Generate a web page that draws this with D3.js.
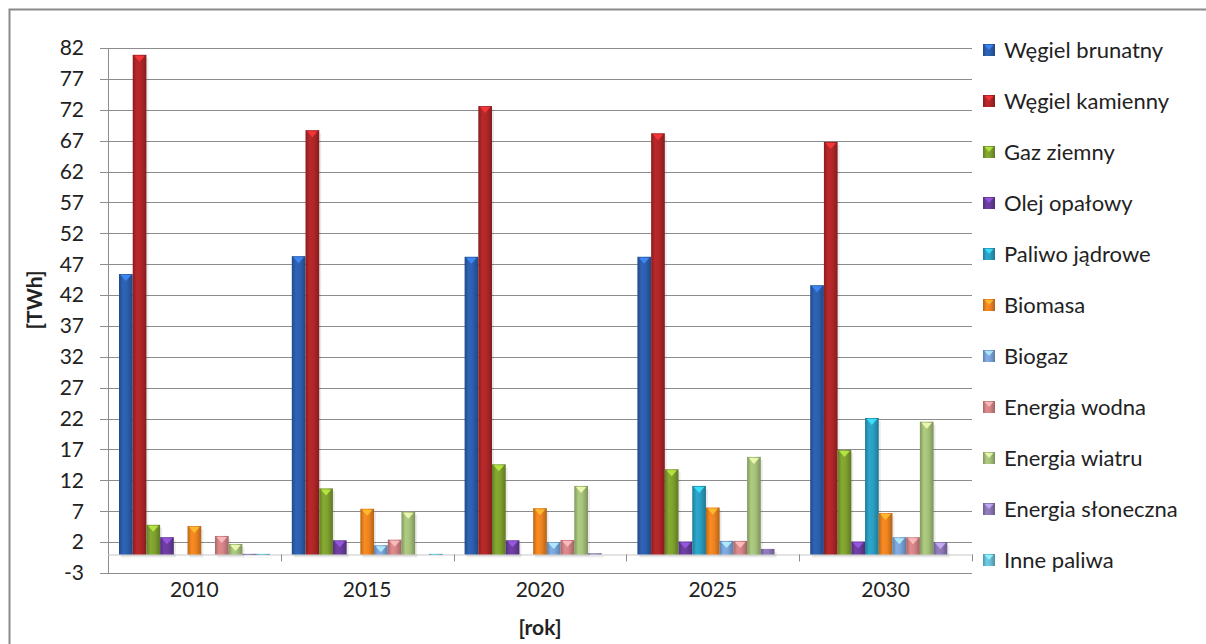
<!DOCTYPE html>
<html>
<head>
<meta charset="utf-8">
<script src="https://cdn.jsdelivr.net/npm/d3@7"></script>
<style>
  body { margin: 0; background: #fff; }
  text { font-family: Lato, "Open Sans", sans-serif; fill: #222; }
</style>
</head>
<body>
<script>
// Chart data
var years = ['2010', '2015', '2020', '2025', '2030'];
var series = ['Węgiel brunatny', 'Węgiel kamienny', 'Gaz ziemny', 'Olej opałowy',
  'Paliwo jądrowe', 'Biomasa', 'Biogaz', 'Energia wodna', 'Energia wiatru',
  'Energia słoneczna', 'Inne paliwa'];
var colors = ['#2c5fae', '#b02628', '#7fa12e', '#6a3d9e', '#2a9ec2', '#ee8420',
  '#7aa5da', '#d58486', '#a6c27a', '#8b78b6', '#68c0d8'];
// one array per series, values per year
var wegielBrunatny = [45.4, 48.3, 48.2, 48.2, 43.6];
var wegielKamienny = [80.9, 68.7, 72.6, 68.2, 66.8];
var gazZiemny = [4.8, 10.7, 14.6, 13.8, 16.9];
var olejOpalowy = [2.8, 2.3, 2.3, 2.1, 2.1];
var paliwoJadrowe = [0, 0, 0, 11.1, 22.1];
var biomasa = [4.6, 7.4, 7.5, 7.6, 6.7];
var biogaz = [0, 1.5, 2.0, 2.2, 2.8];
var energiaWodna = [3.0, 2.4, 2.35, 2.2, 2.8];
var energiaWiatru = [1.7, 6.9, 11.1, 15.8, 21.5];
var energiaSloneczna = [0.1, 0, 0.2, 0.9, 2.0];
var innePaliwa = [0.1, 0.1, 0, 0, 0];
var yTicks = [-3, 2, 7, 12, 17, 22, 27, 32, 37, 42, 47, 52, 57, 62, 67, 72, 77, 82];

var values = [wegielBrunatny, wegielKamienny, gazZiemny, olejOpalowy, paliwoJadrowe,
  biomasa, biogaz, energiaWodna, energiaWiatru, energiaSloneczna, innePaliwa];

var W = 1206, H = 644;
var plotLeft = 108, plotRight = 972, plotTop = 48, plotBottom = 573;

var svg = d3.select('body').append('svg').attr('width', W).attr('height', H);

// outer frame
svg.append('rect')
  .attr('x', 9.5).attr('y', 9.5).attr('width', 1220).attr('height', 660)
  .attr('fill', 'none').attr('stroke', '#8a8a8a').attr('stroke-width', 2);

var y = d3.scaleLinear().domain([-3, 82]).range([plotBottom, plotTop]);
var x0 = d3.scaleBand().domain(years).range([plotLeft, plotRight]);
var x1 = d3.scaleBand().domain(series).range([11, x0.bandwidth() - 11]);

// gradients
var defs = svg.append('defs');
colors.forEach(function(c, i) {
  var g = defs.append('linearGradient').attr('id', 'g' + i)
    .attr('x1', 0).attr('x2', 1).attr('y1', 0).attr('y2', 0);
  var base = d3.color(c);
  g.append('stop').attr('offset', '0%').attr('stop-color', base.darker(0.7));
  g.append('stop').attr('offset', '30%').attr('stop-color', base.brighter(0.15));
  g.append('stop').attr('offset', '60%').attr('stop-color', base);
  g.append('stop').attr('offset', '100%').attr('stop-color', base.darker(0.8));
});

// gridlines
svg.append('g').selectAll('line')
  .data(yTicks).enter().append('line')
  .attr('x1', plotLeft - 8).attr('x2', plotRight)
  .attr('y1', function(d) { return Math.round(y(d)) + 0.5; })
  .attr('y2', function(d) { return Math.round(y(d)) + 0.5; })
  .attr('stroke', '#8c8c8c').attr('stroke-width', 1);

// y axis line
svg.append('line')
  .attr('x1', plotLeft + 0.5).attr('x2', plotLeft + 0.5)
  .attr('y1', y(82)).attr('y2', y(-3))
  .attr('stroke', '#8c8c8c');

// y tick labels
svg.append('g').selectAll('text')
  .data(yTicks).enter().append('text')
  .attr('x', 84).attr('y', function(d) { return y(d); })
  .attr('dy', '0.35em').attr('text-anchor', 'end')
  .attr('font-size', '21px')
  .text(function(d) { return d; });

// zero line and category ticks
svg.append('line')
  .attr('x1', plotLeft).attr('x2', plotRight)
  .attr('y1', y(0) + 0.5).attr('y2', y(0) + 0.5)
  .attr('stroke', '#c8c8c8');
svg.append('g').selectAll('line')
  .data(years.slice(1).concat(['end'])).enter().append('line')
  .attr('x1', function(d, i) { return Math.round(plotLeft + (i + 1) * x0.bandwidth()) + 0.5; })
  .attr('x2', function(d, i) { return Math.round(plotLeft + (i + 1) * x0.bandwidth()) + 0.5; })
  .attr('y1', y(0)).attr('y2', y(0) + 7)
  .attr('stroke', '#8c8c8c');

// bars
var groups = svg.append('g').selectAll('g')
  .data(years).enter().append('g')
  .attr('transform', function(d) { return 'translate(' + x0(d) + ',0)'; });

groups.each(function(yr, yi) {
  var g = d3.select(this);
  var rows = series.map(function(s, si) { return { s: s, si: si, v: values[si][yi] }; })
    .filter(function(d) { return d.v > 0; });
  // shadow
  g.selectAll('rect.shadow').data(rows).enter().append('rect')
    .attr('class', 'shadow')
    .attr('x', function(d) { return x1(d.s) + 2; })
    .attr('y', function(d) { return y(d.v) + 3; })
    .attr('width', x1.bandwidth())
    .attr('height', function(d) { return y(0) - y(d.v); })
    .attr('fill', '#000').attr('opacity', 0.08);
  g.selectAll('rect.bar').data(rows).enter().append('rect')
    .attr('class', 'bar')
    .attr('x', function(d) { return x1(d.s); })
    .attr('y', function(d) { return y(d.v); })
    .attr('width', x1.bandwidth())
    .attr('height', function(d) { return Math.max(1, y(0) - y(d.v)); })
    .attr('fill', function(d) { return 'url(#g' + d.si + ')'; });
  // bevel highlight at the top
  g.selectAll('path.cap').data(rows.filter(function(d) { return y(0) - y(d.v) > 6; }))
    .enter().append('path')
    .attr('class', 'cap')
    .attr('d', function(d) {
      var xa = x1(d.s) + 1.5, xb = x1(d.s) + x1.bandwidth() - 1.5, t = y(d.v) + 1;
      var xm = (xa + xb) / 2;
      return 'M' + xa + ',' + t + 'L' + xb + ',' + t + 'L' + xm + ',' + (t + 6) + 'Z';
    })
    .attr('fill', function(d) { return d3.color(colors[d.si]).brighter(1.1); })
    .attr('opacity', 0.85);
});

// x labels
svg.append('g').selectAll('text')
  .data(years).enter().append('text')
  .attr('x', function(d) { return x0(d) + x0.bandwidth() / 2; })
  .attr('y', 597).attr('text-anchor', 'middle')
  .attr('font-size', '21px')
  .text(function(d) { return d; });

// axis titles
svg.append('text')
  .attr('x', 540).attr('y', 635).attr('text-anchor', 'middle')
  .attr('font-size', '21px').attr('font-weight', 'bold')
  .text('[rok]');
svg.append('text')
  .attr('transform', 'translate(42,300) rotate(-90)')
  .attr('text-anchor', 'middle')
  .attr('font-size', '21px').attr('font-weight', 'bold')
  .text('[TWh]');

// legend
var legend = svg.append('g').selectAll('g')
  .data(series).enter().append('g')
  .attr('transform', function(d, i) { return 'translate(983,' + (50 + i * 51) + ')'; });
legend.append('rect')
  .attr('x', 0).attr('y', -6).attr('width', 12).attr('height', 12)
  .attr('fill', function(d, i) { return 'url(#g' + i + ')'; });
legend.append('path')
  .attr('d', 'M1.5,-5L10.5,-5L6,0Z')
  .attr('fill', function(d, i) { return d3.color(colors[i]).brighter(1.1); })
  .attr('opacity', 0.8);
legend.append('text')
  .attr('x', 21).attr('dy', '0.35em')
  .attr('font-size', '22px')
  .text(function(d) { return d; });
</script>
</body>
</html>
